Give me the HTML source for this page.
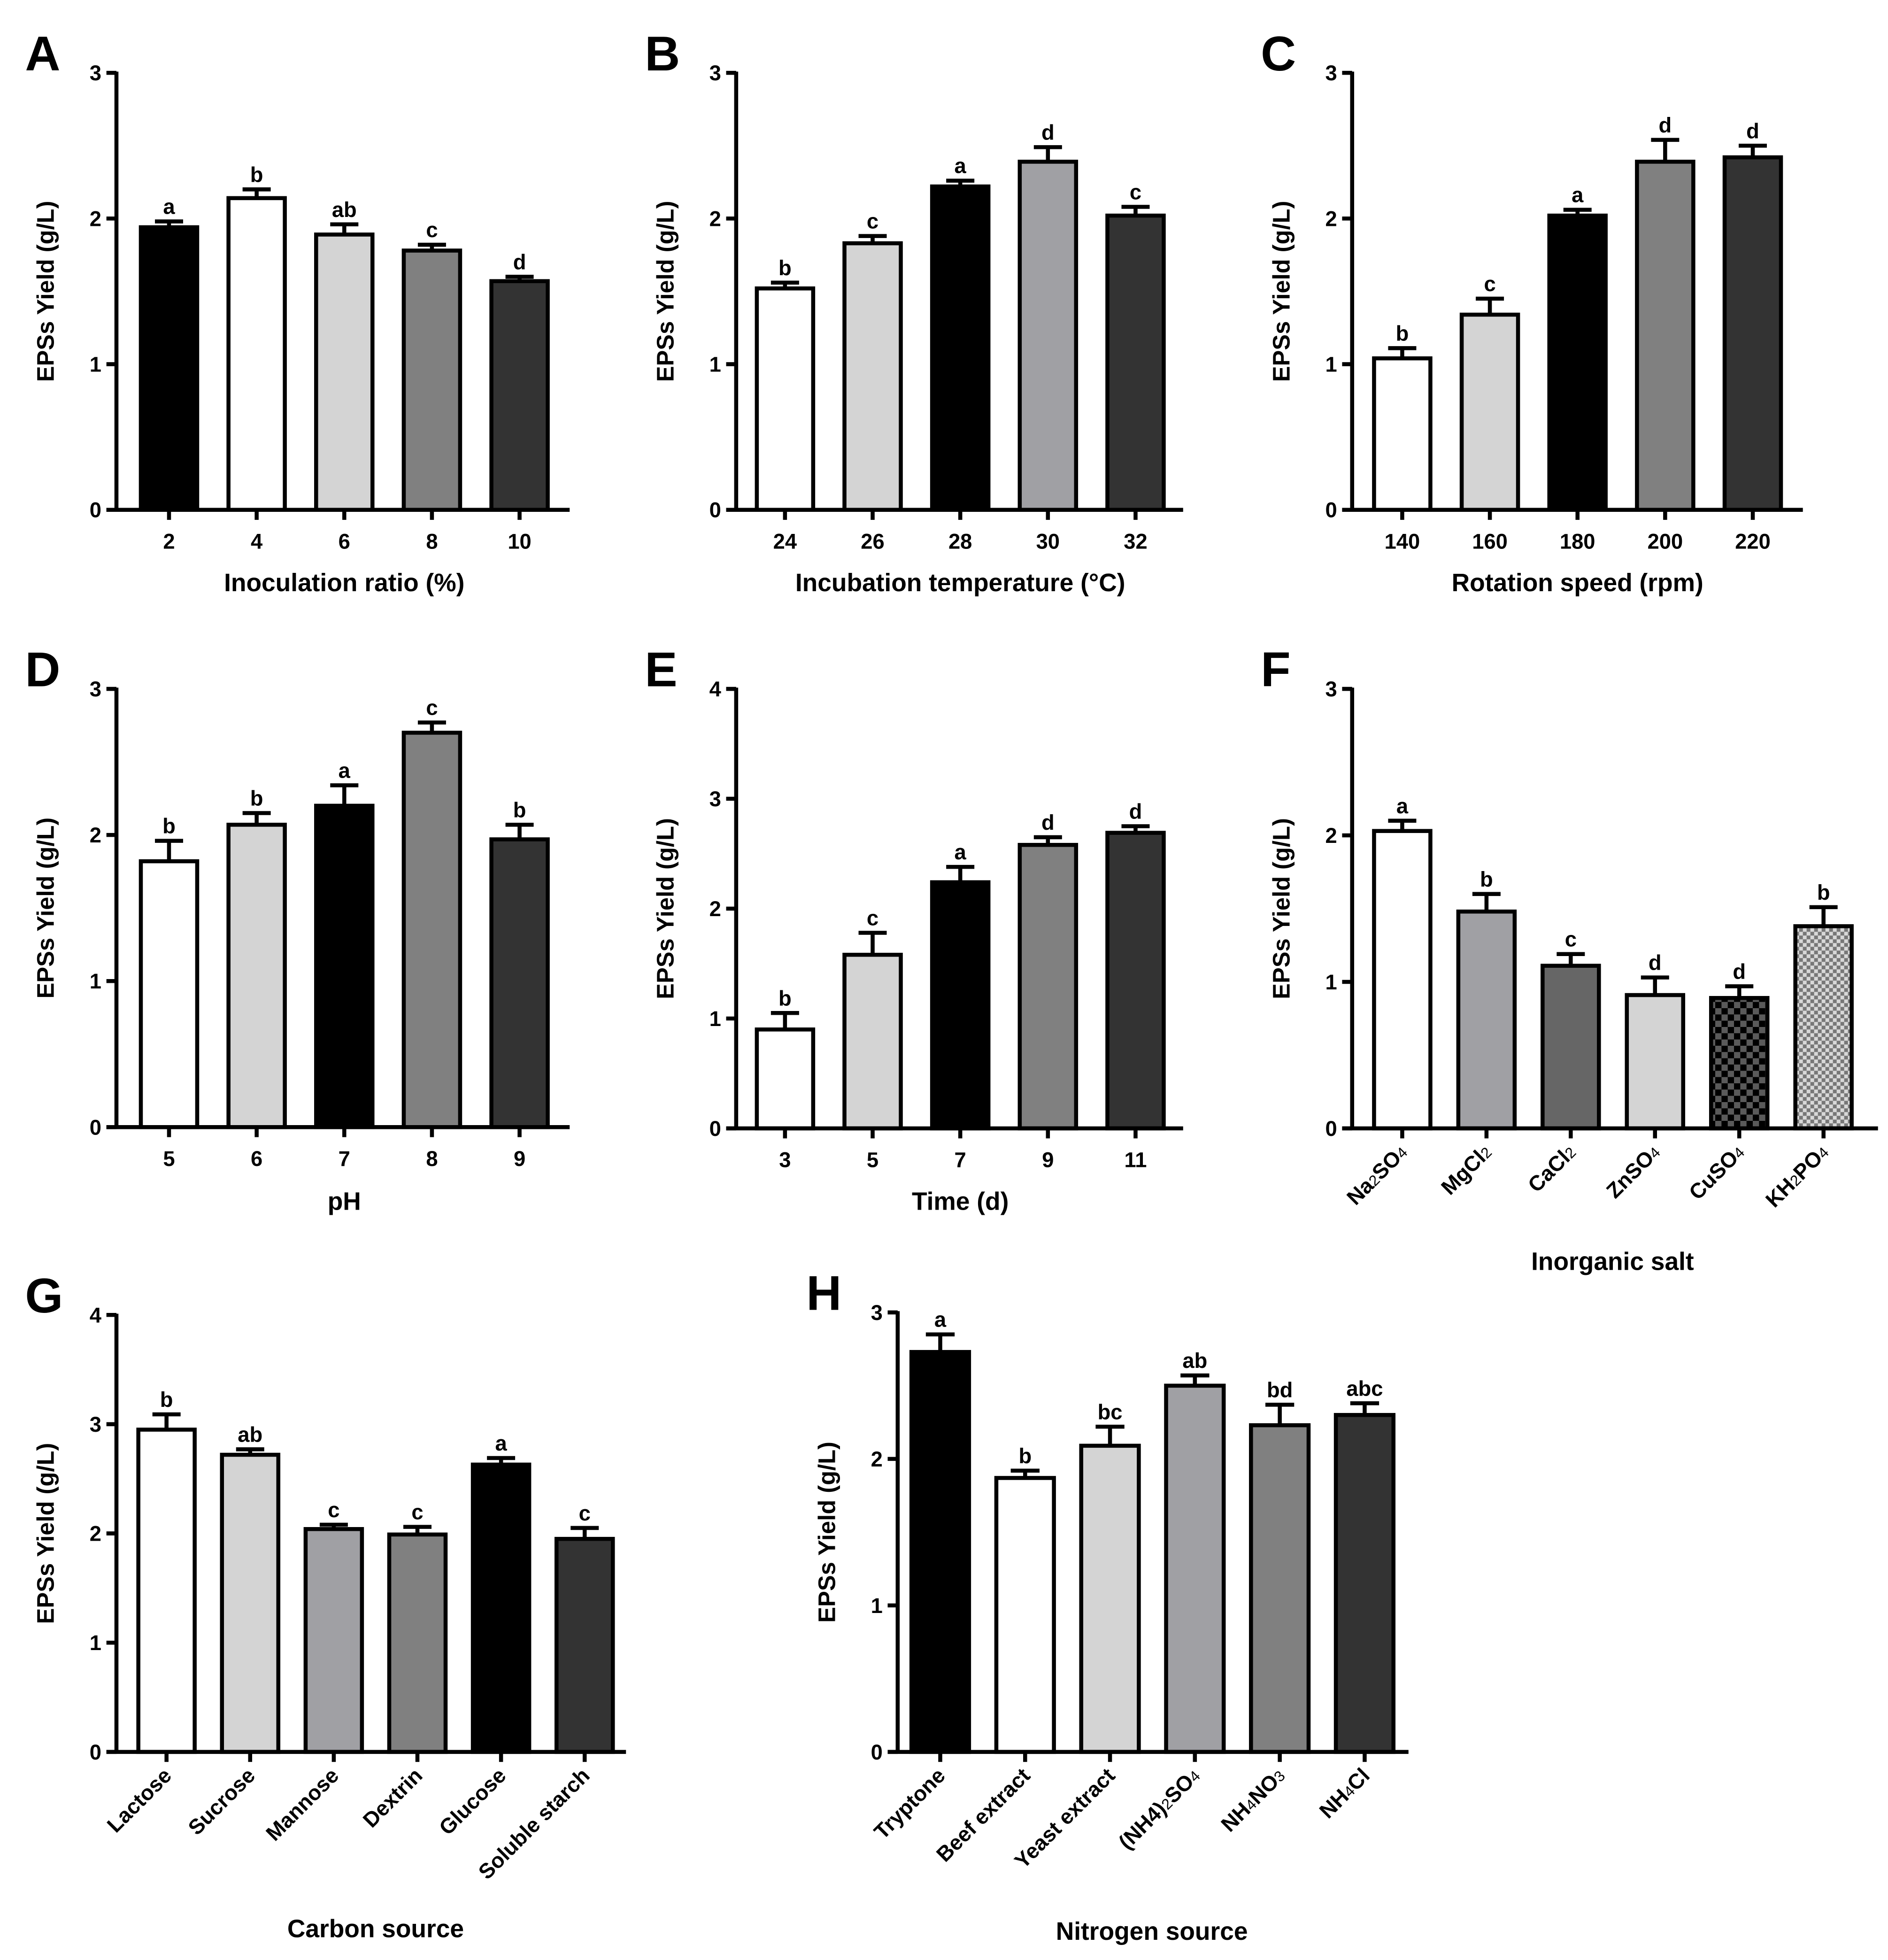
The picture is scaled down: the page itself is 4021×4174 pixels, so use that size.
<!DOCTYPE html>
<html><head><meta charset="utf-8"><style>
html,body{margin:0;padding:0;background:#fff;}
svg{display:block;}
text{font-family:"Liberation Sans",Arial,sans-serif;font-weight:bold;fill:#000;}
</style></head><body>
<svg id="fig" xmlns="http://www.w3.org/2000/svg" width="4021" height="4174" viewBox="0 0 1508 1565">
<defs>
<pattern id="chkDark" width="10" height="10" patternUnits="userSpaceOnUse"><rect width="10" height="10" fill="#5a5a5a"/><rect width="5" height="5" fill="#000"/><rect x="5" y="5" width="5" height="5" fill="#000"/></pattern>
<pattern id="chkLight" width="6" height="6" patternUnits="userSpaceOnUse"><rect width="6" height="6" fill="#d8d8d8"/><rect width="3" height="3" fill="#777"/><rect x="3" y="3" width="3" height="3" fill="#777"/></pattern>
</defs>
</svg>
<script>
// ---- data ----
const catsA = ["2","4","6","8","10"];
const valsA = [1.94,2.14,1.89,1.78,1.57];
const errA = [0.04,0.06,0.07,0.04,0.03];
const letA = ["a","b","ab","c","d"];
const catsB = ["24","26","28","30","32"];
const valsB = [1.52,1.83,2.22,2.39,2.02];
const errB = [0.04,0.05,0.04,0.10,0.06];
const letB = ["b","c","a","d","c"];
const catsC = ["140","160","180","200","220"];
const valsC = [1.04,1.34,2.02,2.39,2.42];
const errC = [0.07,0.11,0.04,0.15,0.08];
const letC = ["b","c","a","d","d"];
const catsD = ["5","6","7","8","9"];
const valsD = [1.82,2.07,2.20,2.70,1.97];
const errD = [0.14,0.08,0.14,0.07,0.10];
const letD = ["b","b","a","c","b"];
const catsE = ["3","5","7","9","11"];
const valsE = [0.90,1.58,2.24,2.58,2.69];
const errE = [0.15,0.20,0.14,0.07,0.06];
const letE = ["b","c","a","d","d"];
const catsF = [["Na","2","SO","4"],["MgCl","2"],["CaCl","2"],["ZnSO","4"],["CuSO","4"],["KH","2","PO","4"]];
const valsF = [2.03,1.48,1.11,0.91,0.89,1.38];
const errF = [0.07,0.12,0.08,0.12,0.08,0.13];
const letF = ["a","b","c","d","d","b"];
const catsG = [["Lactose"],["Sucrose"],["Mannose"],["Dextrin"],["Glucose"],["Soluble starch"]];
const valsG = [2.95,2.72,2.04,1.99,2.63,1.95];
const errG = [0.14,0.05,0.04,0.07,0.06,0.10];
const letG = ["b","ab","c","c","a","c"];
const catsH = [["Tryptone"],["Beef extract"],["Yeast extract"],["(NH4)","2","SO","4"],["NH","4","NO","3"],["NH","4","Cl"]];
const valsH = [2.73,1.87,2.09,2.50,2.23,2.30];
const errH = [0.12,0.05,0.13,0.07,0.14,0.08];
const letH = ["a","b","bc","ab","bd","abc"];

const svg = document.getElementById('fig');
const NS = "http://www.w3.org/2000/svg";
const SW = 3.2;
function mk(tag, attrs, parent){const e=document.createElementNS(NS,tag);for(const k in attrs)e.setAttribute(k,attrs[k]);(parent||svg).appendChild(e);return e;}

function panel(o){
  const g = mk('g',{});
  
  
  const y = v => o.zero - (o.zero-o.top)*v/o.ymax;
  const n = o.vals.length;
  const x = i => o.x0 + i*o.step;
  const lbl = mk('text',{x:o.ax-73,y:o.top-2,'font-size':39},g); lbl.textContent=o.id;
  
  
  for(let i=0;i<n;i++){
    const v=o.vals[i], e=o.errs[i], cx=x(i), bw=o.bw;
    const er = mk('line',{x1:cx,x2:cx,y1:y(v),y2:y(v+e),stroke:'#000','stroke-width':SW},g);
    
    
    const cap = mk('line',{x1:cx-bw*0.25,x2:cx+bw*0.25,y1:y(v+e),y2:y(v+e),stroke:'#000','stroke-width':SW},g);
    
    
    const r = mk('rect',{x:cx-bw/2,y:y(v),width:bw,height:o.zero-y(v),fill:o.colors[i],stroke:'#000','stroke-width':SW},g);
    
    
    const t = mk('text',{x:cx,y:y(v+e)-6,'font-size':17,'text-anchor':'middle'},g); t.textContent=o.lets[i];
    
    
    mk('line',{x1:cx,x2:cx,y1:o.zero,y2:o.zero+8,stroke:'#000','stroke-width':SW},g);
    const c=o.cats[i];
    if(o.rot){
      const tx = mk('text',{x:cx+5,y:o.zero+20,'font-size':17,'text-anchor':'end',transform:'rotate(-45 '+(cx+5)+' '+(o.zero+20)+')'},g);
      
      
      c.forEach((s,k)=>{const ts=mk('tspan',{},tx);ts.textContent=s;if(k%2==1){ts.setAttribute('font-size','12');ts.setAttribute('font-weight','normal');}});
    } else {
      const tx = mk('text',{x:cx,y:o.zero+31,'font-size':17,'text-anchor':'middle'},g); tx.textContent=c;
      
      
    }
  }
  mk('line',{x1:o.ax,x2:o.ax,y1:o.top-1,y2:o.zero+1.5,stroke:'#000','stroke-width':SW},g);
  mk('line',{x1:o.ax-8,x2:o.xend,y1:o.zero,y2:o.zero,stroke:'#000','stroke-width':SW},g);
  for(let v=0;v<=o.ymax;v++){
    mk('line',{x1:o.ax-8,x2:o.ax,y1:y(v),y2:y(v),stroke:'#000','stroke-width':SW},g);
    const t=mk('text',{x:o.ax-12,y:y(v)+6,'font-size':17,'text-anchor':'end'},g); t.textContent=v;
    
    
  }
  const yt=mk('text',{x:0,y:0,'font-size':19,'text-anchor':'middle',transform:'translate('+(o.ax-50)+','+((o.top+o.zero)/2)+') rotate(-90)'},g);
  yt.textContent='EPSs Yield (g/L)';
  
  
  const xt=mk('text',{x:o.titleX,y:o.titleY,'font-size':20,'text-anchor':'middle'},g);
  xt.textContent=o.title;
  
  
}
const W='#fff',L='#d4d4d4',K='#000',M='#808080',D='#333',P='#a0a0a4',G6='#666';
panel({id:'A',ax:93,top:58,zero:407,ymax:3,x0:135,step:70,bw:45,xend:455,vals:valsA,errs:errA,lets:letA,cats:catsA,colors:[K,W,L,M,D],title:'Inoculation ratio (%)',titleX:275,titleY:472});
panel({id:'B',ax:588,top:58,zero:407,ymax:3,x0:627,step:70,bw:45,xend:945,vals:valsB,errs:errB,lets:letB,cats:catsB,colors:[W,L,K,P,D],title:'Incubation temperature (°C)',titleX:767,titleY:472});
panel({id:'C',ax:1080,top:58,zero:407,ymax:3,x0:1120,step:70,bw:45,xend:1440,vals:valsC,errs:errC,lets:letC,cats:catsC,colors:[W,L,K,M,D],title:'Rotation speed (rpm)',titleX:1260,titleY:472});
panel({id:'D',ax:93,top:550,zero:900,ymax:3,x0:135,step:70,bw:45,xend:455,vals:valsD,errs:errD,lets:letD,cats:catsD,colors:[W,L,K,M,D],title:'pH',titleX:275,titleY:966});
panel({id:'E',ax:588,top:550,zero:901,ymax:4,x0:627,step:70,bw:45,xend:945,vals:valsE,errs:errE,lets:letE,cats:catsE,colors:[W,L,K,M,D],title:'Time (d)',titleX:767,titleY:966});
panel({id:'F',ax:1080,top:550,zero:901,ymax:3,x0:1120,step:67.3,bw:45,xend:1500,rot:true,vals:valsF,errs:errF,lets:letF,cats:catsF,colors:[W,P,G6,L,'url(#chkDark)','url(#chkLight)'],title:'Inorganic salt',titleX:1288,titleY:1014});
panel({id:'G',ax:93,top:1050,zero:1399,ymax:4,x0:133,step:66.8,bw:45,xend:500,rot:true,vals:valsG,errs:errG,lets:letG,cats:catsG,colors:[W,L,P,M,K,D],title:'Carbon source',titleX:300,titleY:1547});
panel({id:'H',ax:717,top:1048,zero:1399,ymax:3,x0:751,step:67.8,bw:46,xend:1125,rot:true,vals:valsH,errs:errH,lets:letH,cats:catsH,colors:[K,W,L,P,M,D],title:'Nitrogen source',titleX:920,titleY:1549});
</script>
</body></html>
